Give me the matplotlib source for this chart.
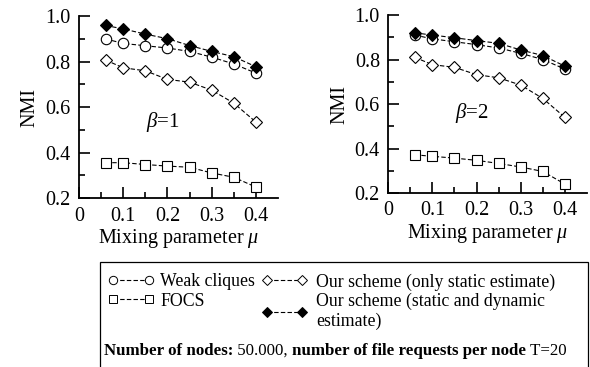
import numpy as np
import matplotlib
matplotlib.use("Agg")
import matplotlib.pyplot as plt
from matplotlib.patches import Rectangle
from matplotlib.lines import Line2D

plt.rcParams['font.family'] = ['Liberation Serif', 'DejaVu Serif']
plt.rcParams['mathtext.fontset'] = 'custom'
plt.rcParams['mathtext.rm'] = 'Liberation Serif'
plt.rcParams['mathtext.it'] = 'Liberation Serif:italic'

mu = [0.06, 0.1, 0.15, 0.2, 0.25, 0.3, 0.35, 0.4]

# beta = 1
weak_b1 = [0.90, 0.88, 0.87, 0.86, 0.845, 0.82, 0.79, 0.75]
focs_b1 = [0.356, 0.356, 0.348, 0.341, 0.336, 0.311, 0.292, 0.249]
static_b1 = [0.807, 0.773, 0.76, 0.722, 0.71, 0.675, 0.618, 0.535]
dyn_b1 = [0.959, 0.944, 0.921, 0.901, 0.871, 0.845, 0.822, 0.778]

# beta = 2
weak_b2 = [0.91, 0.893, 0.88, 0.867, 0.852, 0.828, 0.80, 0.757]
focs_b2 = [0.372, 0.365, 0.357, 0.347, 0.333, 0.317, 0.297, 0.24]
static_b2 = [0.81, 0.777, 0.765, 0.732, 0.718, 0.685, 0.625, 0.54]
dyn_b2 = [0.92, 0.91, 0.898, 0.885, 0.873, 0.843, 0.818, 0.77]

labels = ['Weak cliques', 'FOCS', 'Our scheme (only static estimate)',
          'Our scheme (static and dynamic\nestimate)']

fig = plt.figure(figsize=(5.9, 3.67), dpi=100)
ax1 = fig.add_axes([0.134, 0.46, 0.337, 0.496])
ax2 = fig.add_axes([0.658, 0.474, 0.337, 0.485])

line_kw = dict(color='black', linestyle=(0, (4, 2)), linewidth=0.8)


def draw(ax, weak, focs, static, dyn, beta, bx, by):
    ax.plot(mu, focs, marker='s', ms=7, mfc='white', mec='black', mew=0.8, **line_kw)
    ax.plot(mu, static, marker='D', ms=6.5, mfc='white', mec='black', mew=0.8, **line_kw)
    ax.plot(mu, weak, marker='o', ms=7.5, mfc='white', mec='black', mew=0.8, **line_kw)
    ax.plot(mu, dyn, marker='D', ms=6.5, mfc='black', mec='black', mew=0.8, **line_kw)
    ax.set_xlim(0, 0.45)
    ax.set_ylim(0.2, 1.0)
    ax.set_xticks([0, 0.1, 0.2, 0.3, 0.4])
    ax.set_xticklabels(['0', '0.1', '0.2', '0.3', '0.4'])
    ax.set_xticks([0.05, 0.15, 0.25, 0.35], minor=True)
    ax.set_yticks([0.2, 0.4, 0.6, 0.8, 1.0])
    ax.set_yticklabels(['0.2', '0.4', '0.6', '0.8', '1.0'])
    ax.set_yticks([0.3, 0.5, 0.7, 0.9], minor=True)
    ax.tick_params(which='major', direction='in', length=8, width=1.2, labelsize=14.5, pad=6)
    ax.tick_params(which='minor', direction='in', length=4.5, width=1.2)
    for s in ['top', 'right']:
        ax.spines[s].set_visible(False)
    for s in ['left', 'bottom']:
        ax.spines[s].set_linewidth(1.3)
    ax.set_ylabel('NMI', fontsize=14.5, labelpad=4)
    ax.set_xlabel(r'Mixing parameter $\mu$', fontsize=14.5, labelpad=1)
    ax.text(bx, by, r'$\beta$=%d' % beta, fontsize=15, ha='center', va='center')


draw(ax1, weak_b1, focs_b1, static_b1, dyn_b1, 1, 0.19, 0.535)
draw(ax2, weak_b2, focs_b2, static_b2, dyn_b2, 2, 0.19, 0.56)

# legend box
fig.patches.append(Rectangle((0.17, -0.05), 0.826, 0.335, transform=fig.transFigure,
                             fill=False, edgecolor='black', linewidth=0.9))

handles = [
    Line2D([], [], marker='o', ms=6, mfc='white', mec='black', mew=0.7, **line_kw),
    Line2D([], [], marker='s', ms=5.5, mfc='white', mec='black', mew=0.7, **line_kw),
    Line2D([], [], marker='D', ms=5, mfc='white', mec='black', mew=0.7, **line_kw),
    Line2D([], [], marker='D', ms=5, mfc='black', mec='black', mew=0.7, **line_kw),
]
leg_kw = dict(numpoints=2, frameon=False, loc='upper left', fontsize=12.8,
              labelspacing=0.12, borderpad=0, borderaxespad=0)
leg1 = fig.legend(handles[:2], labels[:2], bbox_to_anchor=(0.183, 0.255),
                  handlelength=2.6, handletextpad=0.35, **leg_kw)
leg2 = fig.legend(handles[2:], labels[2:], bbox_to_anchor=(0.443, 0.255),
                  handlelength=2.6, handletextpad=0.5, **leg_kw)

# bottom caption with mixed weights
t = fig.text(0.176, 0.0436, 'Number of nodes:', fontsize=12.2, fontweight='bold',
             va='center')
pieces = [(' 50.000, ', 'normal'), ('number of file requests per node', 'bold'),
          (' T=20', 'normal')]
for txt, w in pieces:
    t = plt.annotate(txt, xycoords=t, xy=(1, 0), va='bottom', fontsize=12.2,
                     fontweight=w, annotation_clip=False)

fig.savefig('out.png', dpi=100)
